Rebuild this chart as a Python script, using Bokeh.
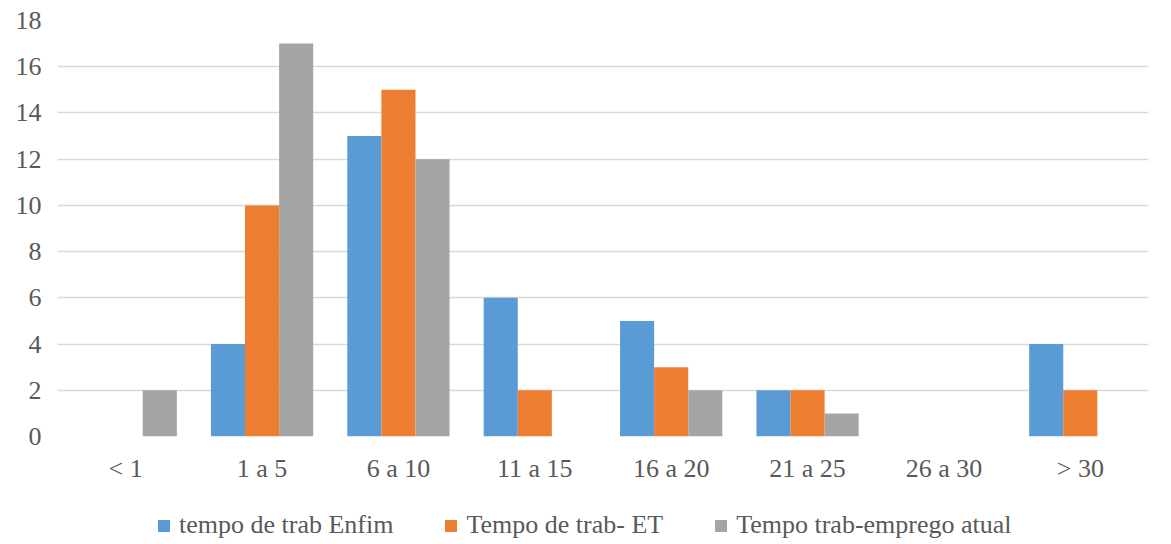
from bokeh.plotting import figure
from bokeh.layouts import column
from bokeh.models import ColumnDataSource, FactorRange, Range1d, Legend, LegendItem, SingleIntervalTicker
from bokeh.transform import dodge
from bokeh.embed import file_html
from bokeh.resources import INLINE

categories = ["< 1", "1 a 5", "6 a 10", "11 a 15", "16 a 20", "21 a 25", "26 a 30", "> 30"]
enfim = [0, 4, 13, 6, 5, 2, 0, 4]
et = [0, 10, 15, 2, 3, 2, 0, 2]
atual = [2, 17, 12, 0, 2, 1, 0, 0]
series_names = ["tempo de trab Enfim", "Tempo de trab- ET", "Tempo trab-emprego atual"]
colors = ["#5B9BD5", "#ED7D31", "#A5A5A5"]

source = ColumnDataSource(dict(cat=categories, enfim=enfim, et=et, atual=atual))

FONT = "'Liberation Serif', 'Times New Roman', serif"
TEXT = "#595959"
FSIZE = "26px"

p = figure(width=1171, height=496, x_range=FactorRange(*categories), y_range=Range1d(0, 18),
           output_backend="svg", toolbar_location=None,
           min_border_left=57, min_border_right=23, min_border_top=20, min_border_bottom=60)
p.outline_line_color = None
p.background_fill_color = "white"
p.border_fill_color = "white"
p.x_range.range_padding = 0

for col, off, color in zip(["enfim", "et", "atual"], [-0.25, 0.0, 0.25], colors):
    p.vbar(x=dodge("cat", off, range=p.x_range), top=col, width=0.25, bottom=0,
           source=source, fill_color=color, line_color=None)

p.xgrid.grid_line_color = None
p.ygrid.grid_line_color = "#D9D9D9"
p.ygrid.grid_line_width = 1.5
p.yaxis.ticker = SingleIntervalTicker(interval=2)
for ax in (p.xaxis, p.yaxis):
    ax.axis_line_color = None
    ax.major_tick_line_color = None
    ax.minor_tick_line_color = None
    ax.major_label_text_font = FONT
    ax.major_label_text_font_size = FSIZE
    ax.major_label_text_color = TEXT
p.xaxis.major_label_standoff = 11
p.yaxis.major_label_standoff = 10

# separate strip below the chart holding the series legend
leg_fig = figure(width=1171, height=48, output_backend="svg", toolbar_location=None,
                 min_border=0, x_range=Range1d(0, 1), y_range=Range1d(0, 1),
                 x_axis_location=None, y_axis_location=None)
leg_fig.grid.visible = False
leg_fig.outline_line_color = None
leg_fig.border_fill_color = "white"

# off-screen swatches so that each legend entry gets its coloured square
proxies = [leg_fig.vbar(x=[-10], top=[-10], bottom=[-11], width=1, fill_color=c, line_color=None)
           for c in colors]
legend = Legend(items=[LegendItem(label=n, renderers=[r]) for n, r in zip(series_names, proxies)],
                orientation="horizontal", location=(99, 4),
                label_text_font=FONT, label_text_font_size=FSIZE, label_text_color=TEXT,
                glyph_width=15, glyph_height=15, spacing=50, label_standoff=8,
                border_line_color=None, background_fill_alpha=0, margin=0, padding=0)
leg_fig.add_layout(legend, "center")

layout = column(p, leg_fig, spacing=0)
open("out.html", "w").write(file_html(layout, INLINE))
